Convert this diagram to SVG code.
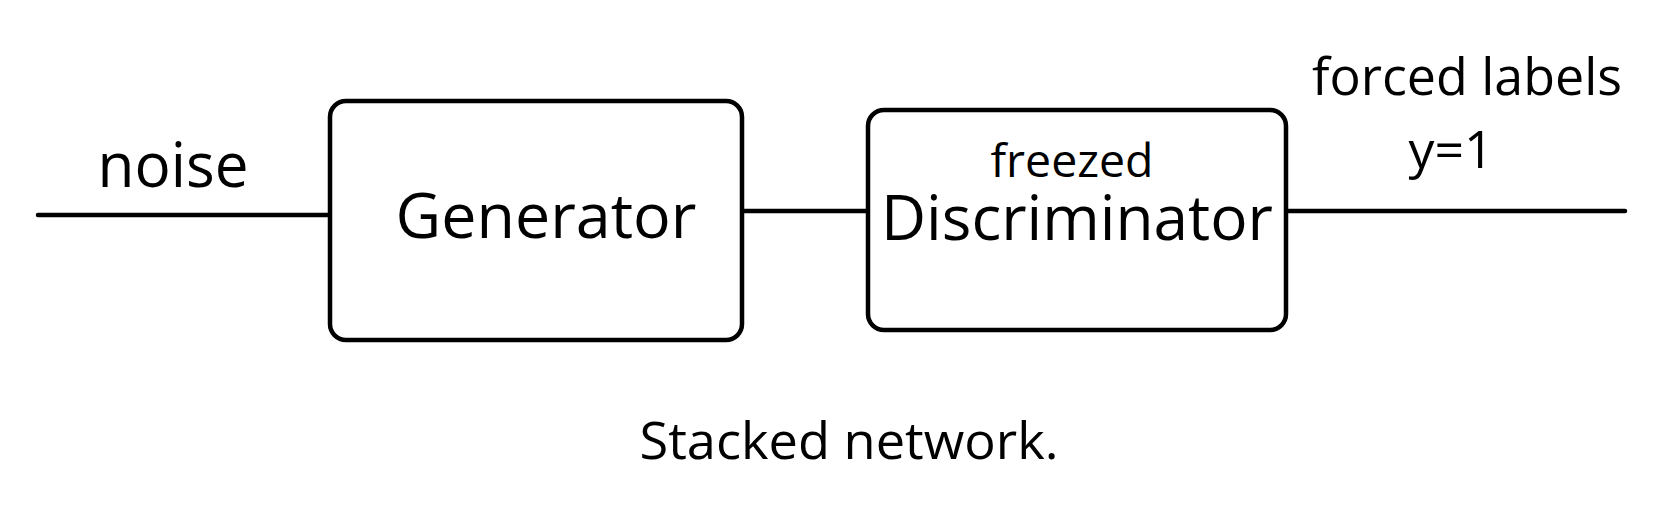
<svg xmlns="http://www.w3.org/2000/svg" width="1653" height="508" viewBox="0 0 1653 508">
<style>
.box{fill:#fff;stroke:#000;stroke-width:4.5}
.wire{stroke:#000;stroke-width:4.5;stroke-linecap:round;fill:none}
text{font-family:"Open Sans","Noto Sans","DejaVu Sans",sans-serif;fill:#000;text-anchor:middle}
</style>
<rect width="1653" height="508" fill="#fff"/>
<g id="connectors">
<line class="wire" x1="38" y1="215" x2="330" y2="215"/>
<line class="wire" x1="742" y1="211" x2="868" y2="211"/>
<line class="wire" x1="1286" y1="211" x2="1625" y2="211"/>
</g>
<g id="generator">
<rect class="box" x="330" y="101" width="412" height="239" rx="16"/>
<text x="546" y="238" font-size="63" textLength="301" lengthAdjust="spacingAndGlyphs">Generator</text>
</g>
<g id="discriminator">
<rect class="box" x="868" y="110" width="418" height="220" rx="16"/>
<text x="1072" y="177" font-size="46" textLength="163" lengthAdjust="spacingAndGlyphs">freezed</text>
<text x="1077" y="240" font-size="62" textLength="392" lengthAdjust="spacingAndGlyphs">Discriminator</text>
</g>
<g id="noise-label">
<text x="173" y="187" font-size="62" textLength="151" lengthAdjust="spacingAndGlyphs">noise</text>
</g>
<g id="labels-label">
<text x="1467" y="95" font-size="51" textLength="310" lengthAdjust="spacingAndGlyphs">forced labels</text>
<text x="1451" y="168" font-size="52" textLength="85" lengthAdjust="spacingAndGlyphs">y=1</text>
</g>
<g id="caption">
<text x="849" y="459" font-size="52" textLength="419" lengthAdjust="spacingAndGlyphs">Stacked network.</text>
</g>
</svg>
